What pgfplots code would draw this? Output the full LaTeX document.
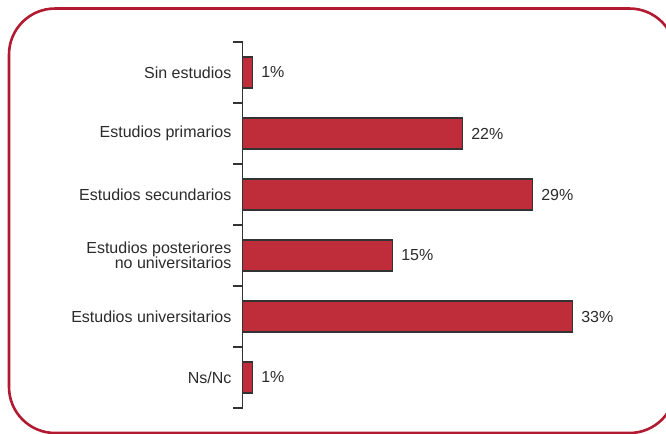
\documentclass[border=0pt]{standalone}
\usepackage{fontspec}
\setmainfont{Liberation Sans}
\usepackage{pgfplots}
\pgfplotsset{compat=1.18}
\definecolor{framered}{HTML}{B11A30}
\definecolor{barred}{HTML}{BF2D3A}
\definecolor{txtgray}{HTML}{2B2B2B}
\definecolor{axgray}{HTML}{333333}

\begin{document}
\begin{tikzpicture}
% 1 px of the reference = 0.75pt
\useasboundingbox (0,0) rectangle (499.5pt,325.5pt);
\clip (0,0) rectangle (499.5pt,325.5pt);
\draw[framered, line width=1.95pt, rounded corners=34.5pt]
  (6.75pt,0.75pt) rectangle (506.6pt,319.1pt);

\begin{axis}[
  at={(181.9pt,294pt)}, anchor=north west,
  scale only axis,
  width=300pt, height=274.5pt,
  xbar, bar width=23.25pt,
  xmin=0, xmax=40,
  ymin=-0.5, ymax=5.5,
  y dir=reverse,
  hide x axis,
  axis y line*=left,
  axis line style={draw=axgray, line width=1.3pt},
  ytick={0,1,2,3,4,5},
  yticklabels={Sin estudios, Estudios primarios, Estudios secundarios,
    {Estudios posteriores\\no universitarios}, Estudios universitarios, Ns/Nc},
  yticklabel style={font=\fontsize{12}{11.2}\selectfont, text=txtgray,
    align=right, inner xsep=0pt, xshift=-8.2pt},
  major tick length=0pt,
  minor ytick={-0.5,0.5,1.5,2.5,3.5,4.5,5.5},
  minor tick length=6.9pt,
  tick align=outside,
  ytick pos=left,
  minor tick style={draw=axgray, line width=1.3pt},
  clip=false,
  point meta=x,
  /pgf/number format/assume math mode=true,
  nodes near coords={\pgfmathprintnumber{\pgfplotspointmeta}\%},
  every node near coord/.append style={font=\fontsize{12}{13}\selectfont,
    text=txtgray, anchor=west, inner xsep=0pt, xshift=6.2pt},
]
\addplot[draw=axgray, line width=0.8pt, fill=barred] coordinates {
  (1,0) (22,1) (29,2) (15,3) (33,4) (1,5)
};
\end{axis}
\end{tikzpicture}
\end{document}
